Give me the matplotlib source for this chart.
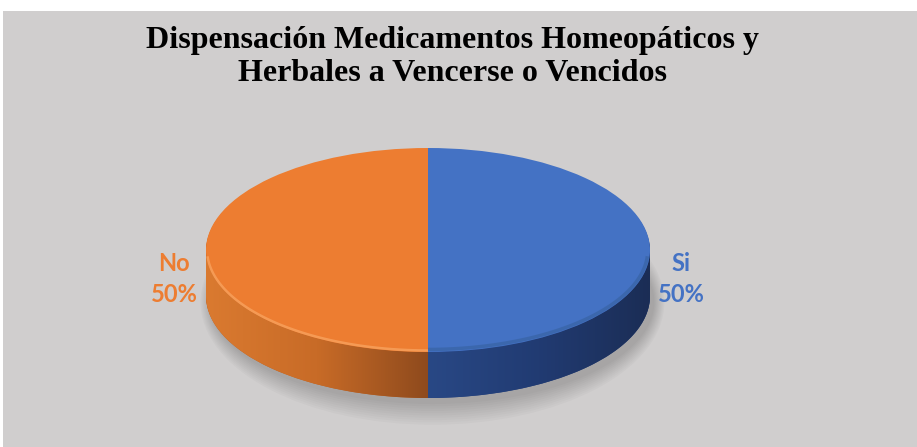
import numpy as np
import matplotlib.pyplot as plt
from matplotlib.patches import Rectangle, Ellipse, Polygon
from matplotlib.colors import LinearSegmentedColormap

# datos
categorias = ['Si', 'No']
valores = [50, 50]
colores = ['#4472C4', '#ED7D31']
colores_lado = ['#24407A', '#B85F22']
titulo = 'Dispensación Medicamentos Homeopáticos y\nHerbales a Vencerse o Vencidos'

W, H = 917, 447
fig = plt.figure(figsize=(W / 100, H / 100), dpi=100)
fig.patch.set_facecolor('white')
fig.add_artist(Rectangle((3 / W, 0), 914 / W, 436 / H, transform=fig.transFigure,
                         facecolor='#D0CECE', edgecolor='none', zorder=0))

# ejes en "pixeles": centro de la torta en (428, 250), semiejes 222 x 102
cx, cy, a, b = 428, 250, 222, 102
ax = fig.add_axes([0, 0, 1, 1])
ax.set_facecolor('none')

grosor = 46
g = grosor / b
# sombra suave
for i in range(10):
    ax.add_patch(Ellipse((0.02, -g - 0.06), 2.0 + i * 0.01, 2.0 + i * 0.045,
                         facecolor='black', alpha=0.018, edgecolor='none', zorder=1))

# lado (cilindro)
for k in range(grosor, 0, -1):
    w, _ = ax.pie(valores, colors=colores_lado, center=(0, -k / b), radius=1,
                  startangle=90, counterclock=False,
                  wedgeprops=dict(linewidth=0))
    for p in w:
        p.set_zorder(2)

# degradado horizontal del lado, recortado a cada mitad frontal
def lado_frontal(t0, t1):
    t = np.linspace(t0, t1, 200)
    xs, ys = np.cos(t), np.sin(t)
    pts = np.vstack([np.column_stack([xs, ys]),
                     np.column_stack([xs[::-1], ys[::-1] - g])])
    return Polygon(pts, closed=True, transform=ax.transData)

grad_no = LinearSegmentedColormap.from_list('no', ['#DA7A30', '#C86B27', '#8E4A1D'])
grad_si = LinearSegmentedColormap.from_list('si', ['#294885', '#213B72', '#1B2D55'])
xg = np.linspace(0, 1, 256).reshape(1, -1)
im = ax.imshow(xg, cmap=grad_no, extent=(-1, 0, -1 - g, 0), aspect='auto',
               interpolation='bilinear', zorder=2.5)
im.set_clip_path(lado_frontal(np.pi, 1.5 * np.pi))
im = ax.imshow(xg, cmap=grad_si, extent=(0, 1, -1 - g, 0), aspect='auto',
               interpolation='bilinear', zorder=2.5)
im.set_clip_path(lado_frontal(1.5 * np.pi, 2 * np.pi))

# cara superior
w, _ = ax.pie(valores, colors=colores, center=(0, 0), radius=1,
              startangle=90, counterclock=False,
              wedgeprops=dict(linewidth=0))
for p in w:
    p.set_zorder(3)

# brillo del borde
t = np.linspace(np.pi * 1.02, 1.5 * np.pi, 100)
ax.plot(np.cos(t) * 0.995, np.sin(t) * 0.985, color='#F8A25E', lw=1.8, alpha=0.8,
        zorder=4, solid_capstyle='butt')
t = np.linspace(1.5 * np.pi, 1.98 * np.pi, 100)
ax.plot(np.cos(t) * 0.99, np.sin(t) * 0.975, color='#36609F', lw=2.5, alpha=0.6,
        zorder=4, solid_capstyle='butt')

ax.set_aspect('auto')
ax.set_xlim(-cx / a, (W - cx) / a)
ax.set_ylim((cy - H) / b, cy / b)
ax.axis('off')

# etiquetas
pos_x = {'Si': (681 - cx) / a, 'No': (174 - cx) / a}
for cat, val, col in zip(categorias, valores, colores):
    pct = val / sum(valores) * 100
    ax.text(pos_x[cat], (cy - 279) / b, f'{cat}\n{pct:.0f}%', color=col,
            ha='center', va='center', fontsize=17, fontweight='bold',
            family='Lato', linespacing=1.4, zorder=5)

fig.text(452 / W, 1 - 57 / H, titulo, ha='center', va='center',
         fontsize=23, fontweight='bold', family='Liberation Serif',
         linespacing=1.14)

plt.savefig('out.png', dpi=100)
